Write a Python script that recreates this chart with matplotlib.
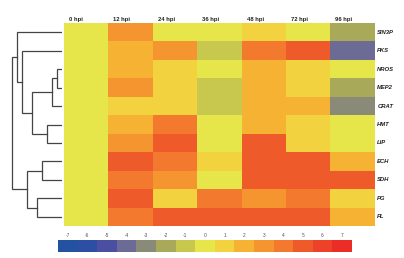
import numpy as np
import matplotlib
matplotlib.use("Agg")
import matplotlib.pyplot as plt
from matplotlib.colors import ListedColormap, BoundaryNorm

# data
genes = ["SIN3P", "PKS", "NROS", "MEP2", "CRAT", "HMT", "LIP", "ECH", "SDH", "PG", "PL"]
timepoints = ["0 hpi", "12 hpi", "24 hpi", "36 hpi", "48 hpi", "72 hpi", "96 hpi"]
values = np.array([
    [0, 3, 0, 0, 1, 0, -2],   # SIN3P
    [0, 2, 3, -1, 4, 5, -4],  # PKS
    [0, 2, 1, 0, 2, 1, 0],    # NROS
    [0, 3, 1, -1, 2, 1, -2],  # MEP2
    [0, 1, 1, -1, 2, 2, -3],  # CRAT
    [0, 2, 4, 0, 2, 1, 0],    # HMT
    [0, 3, 5, 0, 5, 1, 0],    # LIP
    [0, 5, 4, 1, 5, 5, 2],    # ECH
    [0, 4, 3, 0, 5, 5, 5],    # SDH
    [0, 5, 1, 4, 3, 4, 1],    # PG
    [0, 4, 5, 5, 5, 5, 2],    # PL
])
scale_ticks = list(range(-7, 8))
scale_colors = ["#2352a0", "#2d4fa3", "#4b4fa1", "#6b6b96", "#8a8a78", "#a8aa5a",
                "#c8c84e", "#e6e64a", "#f2d23e", "#f5b233", "#f5952f", "#f2792e",
                "#ef5a2a", "#ed4129", "#ea2e27"]

# linkage: (left, right, height); leaves are 0..10, new clusters 11, 12, ...
linkage = [
    (2, 3, 5.3),
    (11, 4, 10.3),
    (5, 6, 14.7),
    (7, 8, 20.3),
    (9, 10, 24.7),
    (12, 13, 29.7),
    (14, 15, 35.3),
    (1, 16, 40.3),
    (0, 18, 45.0),
    (19, 17, 49.7),
]

W, H = 404, 258


def box(x0, y0, x1, y1):
    return [x0 / W, 1 - y1 / H, (x1 - x0) / W, (y1 - y0) / H]


cmap = ListedColormap(scale_colors)
norm = BoundaryNorm(np.arange(-7.5, 8.5, 1), cmap.N)

fig = plt.figure(figsize=(W / 100, H / 100), dpi=100)

# heatmap
ax = fig.add_axes(box(64, 23, 375, 226))
ax.imshow(values, cmap=cmap, norm=norm, aspect="auto", interpolation="nearest")
ax.axis("off")
for j, t in enumerate(timepoints):
    ax.text(j - 0.39, -0.7, t, ha="left", va="center", fontsize=4.2,
            fontweight="bold", family="Liberation Sans", color="#222222")
for i, g in enumerate(genes):
    ax.text(len(timepoints) - 0.45, i, g, ha="left", va="center", fontsize=4.2,
            fontweight="bold", fontstyle="italic", family="Liberation Sans",
            color="#222222")

# dendrogram
dax = fig.add_axes(box(0, 23, 62, 226))
dax.set_xlim(62, 0)
dax.set_ylim(len(genes) - 0.5, -0.5)
dax.axis("off")
pos = {i: (0.0, float(i)) for i in range(len(genes))}
for k, (a, b, h) in enumerate(linkage):
    xa, ya = pos[a]
    xb, yb = pos[b]
    dax.plot([xa, h, h, xb], [ya, ya, yb, yb], color="#444444", lw=0.9,
             solid_joinstyle="miter")
    pos[len(genes) + k] = (h, (ya + yb) / 2)

# colour scale
cax = fig.add_axes(box(58, 240, 352, 252))
cax.imshow(np.array(scale_ticks)[None, :], cmap=cmap, norm=norm,
           aspect="auto", interpolation="nearest")
cax.axis("off")
for i, t in enumerate(scale_ticks):
    cax.text(i, -0.85, str(t), ha="center", va="center", fontsize=3.5,
             family="Liberation Sans", color="#555555")

fig.savefig("out.png", dpi=100)
